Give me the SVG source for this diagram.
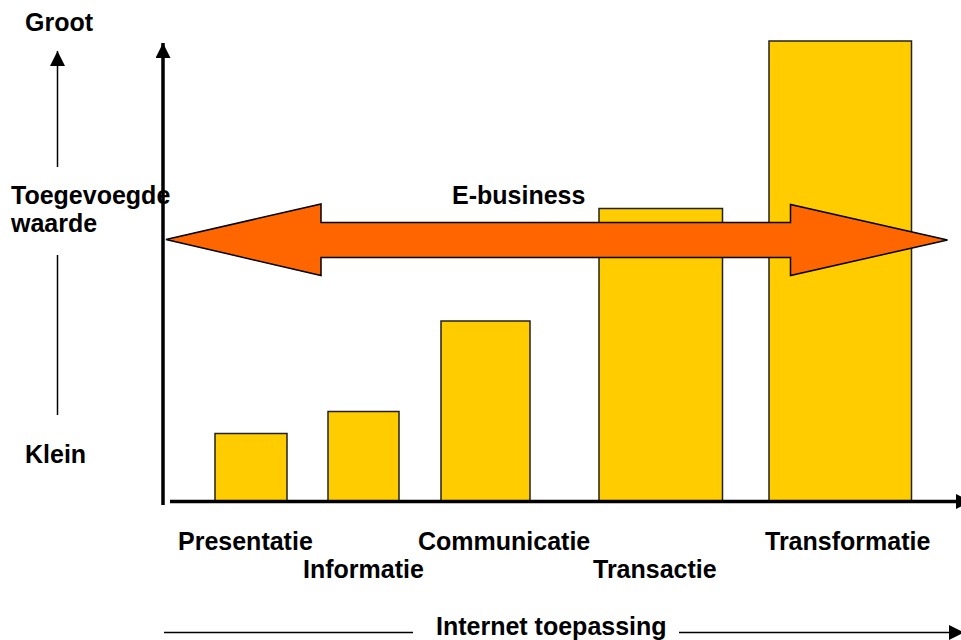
<svg xmlns="http://www.w3.org/2000/svg" width="961" height="640" viewBox="0 0 961 640">
  <style>
    text { font-family: "Liberation Sans", Arial, sans-serif; font-weight: bold; font-size: 25px; fill: #000; }
    .bar { fill: #FFCC00; stroke: #222; stroke-width: 1.5; }
    .axis { stroke: #000; stroke-width: 3.5; fill: none; }
    .thin { stroke: #000; stroke-width: 1.5; fill: none; }
    .big { fill: #FF6600; stroke: #000; stroke-width: 1.5; stroke-linejoin: miter; }
  </style>
  <defs>
    <marker id="headL" viewBox="0 0 10 10" refX="10" refY="5" markerWidth="16" markerHeight="15" markerUnits="userSpaceOnUse" orient="auto">
      <path d="M0,0 L10,5 L0,10 Z" fill="#000"/>
    </marker>
  </defs>

  <!-- bars -->
  <g id="bar-presentatie"><rect class="bar" x="215" y="433.5" width="72" height="68"/></g>
  <g id="bar-informatie"><rect class="bar" x="328" y="411.5" width="71" height="90"/></g>
  <g id="bar-communicatie"><rect class="bar" x="441" y="321" width="89" height="180.5"/></g>
  <g id="bar-transactie"><rect class="bar" x="599" y="208.5" width="123.5" height="293"/></g>
  <g id="bar-transformatie"><rect class="bar" x="769" y="41" width="142.5" height="460.5"/></g>

  <!-- connectors: axes and value scale -->
  <g id="connectors">
    <line class="axis" x1="163" y1="505" x2="163" y2="43" marker-end="url(#headL)"/>
    <line class="axis" x1="170" y1="501.5" x2="971" y2="501.5" marker-end="url(#headL)"/>
    <line class="thin" x1="57.5" y1="167" x2="57.5" y2="51" marker-end="url(#headL)"/>
    <line class="thin" x1="57.5" y1="255" x2="57.5" y2="415"/>
    <line class="thin" x1="164" y1="632.5" x2="413" y2="632.5"/>
    <line class="thin" x1="679" y1="632.5" x2="964" y2="632.5" marker-end="url(#headL)"/>
  </g>

  <!-- E-business double arrow -->
  <g id="e-business">
    <path class="big" d="M166,239.5 L321,204 L321,222.5 L790.5,222.5 L790.5,204.5 L947.5,240 L790.5,275.5 L790.5,257.5 L321,257.5 L321,275.5 Z"/>
    <text x="452" y="203.5">E-business</text>
  </g>

  <!-- scale labels -->
  <g id="label-groot"><text x="25" y="31">Groot</text></g>
  <g id="label-toegevoegde"><text x="11" y="204">Toegevoegde</text><text x="11" y="232">waarde</text></g>
  <g id="label-klein"><text x="25" y="463">Klein</text></g>

  <!-- category labels -->
  <g id="label-presentatie"><text x="178" y="550">Presentatie</text></g>
  <g id="label-informatie"><text x="303" y="578">Informatie</text></g>
  <g id="label-communicatie"><text x="418" y="550">Communicatie</text></g>
  <g id="label-transactie"><text x="593" y="578">Transactie</text></g>
  <g id="label-transformatie"><text x="765" y="550">Transformatie</text></g>
  <g id="label-internet"><text x="436" y="635">Internet toepassing</text></g>
</svg>
